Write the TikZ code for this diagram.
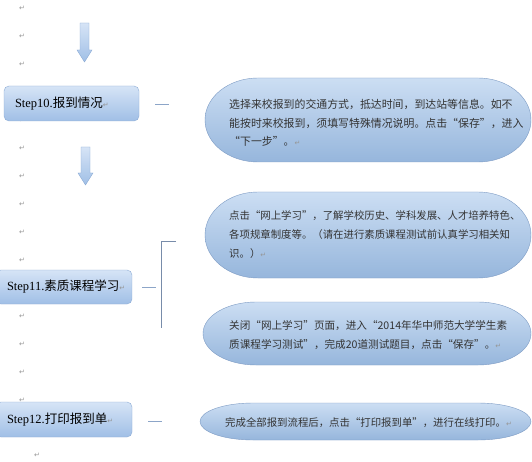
\documentclass[tikz,border=0pt]{standalone}
\usepackage{fontspec}
\setmainfont{Liberation Serif}
\newfontfamily\cjk{Noto Sans CJK SC}
\newfontfamily\symf{DejaVu Sans}
\usetikzlibrary{calc}
\definecolor{boxtop}{RGB}{214,228,246}
\definecolor{boxbot}{RGB}{160,191,230}
\definecolor{boxline}{RGB}{141,172,214}
\definecolor{elltop}{RGB}{204,222,243}
\definecolor{ellbot}{RGB}{150,182,220}
\definecolor{ellline}{RGB}{125,155,196}
\definecolor{dashc}{RGB}{140,165,200}
\definecolor{brackc}{RGB}{120,140,170}
\definecolor{markc}{RGB}{150,150,150}
\newcommand\parmk{{\color{markc}\symf\fontsize{7}{8}\selectfont ↵}}
% capsule with elliptical ends: x1 top x2 bottom
\newcommand\capsulepath[4]{(#1+53,#2) -- (#3-53,#2)
  .. controls (#3-23.73,#2) and (#3,{(#2+#4)/2-(#4-#2)*0.27615}) .. (#3,{(#2+#4)/2})
  .. controls (#3,{(#2+#4)/2+(#4-#2)*0.27615}) and (#3-23.73,#4) .. (#3-53,#4)
  -- (#1+53,#4)
  .. controls (#1+23.73,#4) and (#1,{(#2+#4)/2+(#4-#2)*0.27615}) .. (#1,{(#2+#4)/2})
  .. controls (#1,{(#2+#4)/2-(#4-#2)*0.27615}) and (#1+23.73,#2) .. (#1+53,#2) -- cycle}
\tikzset{
  stepbox/.style={draw=boxline, top color=boxtop, bottom color=boxbot, rounded corners=5pt,
    inner xsep=11pt, inner ysep=0pt, align=left, font=\fontsize{12.5}{14}\selectfont},
  parmark/.style={text=markc, font=\symf\fontsize{7}{8}\selectfont, inner sep=0pt},
  elltext/.style={inner sep=0pt, align=left, anchor=base west, text=black!80,
    font=\cjk\fontsize{10.9}{18.6}\selectfont},
  capsule/.style={draw=ellline, top color=elltop, bottom color=ellbot},
  blockarrow/.style={draw=boxline, top color=boxtop, bottom color=boxbot},
  dashline/.style={draw=dashc, line width=0.8pt},
  brack/.style={draw=brackc, line width=0.7pt}
}
\begin{document}
\begin{tikzpicture}[x=1pt,y=-1pt]
\useasboundingbox[fill=white] (0,0) rectangle (532,462);
% paragraph marks
\foreach \yy [count=\i] in {8,36,64,120,148,176,204,232,260,316,344,372,400}
  \node[parmark] (pm\i) at (22,\yy) {↵};
\node[parmark] (pmlast) at (37,455) {↵};
% block arrows
\path[blockarrow] (80,23) -- (89,23) -- (89,50) -- (92,50) -- (84.5,62) -- (77,50) -- (80,50) -- cycle;
\path[blockarrow] (81,147) -- (90,147) -- (90,173) -- (93,173) -- (85.5,185) -- (78,173) -- (81,173) -- cycle;
% step boxes
\node[stepbox, minimum width=135pt, minimum height=35pt, text width=113pt] (s10) at (71.5,103.5)
  {Step10.{\cjk 报到情况}\parmk};
\node[stepbox, minimum width=136pt, minimum height=34pt, text width=114pt] (s11) at (64,287)
  {Step11.{\cjk 素质课程学习}\parmk};
\node[stepbox, minimum width=136pt, minimum height=35pt, text width=114pt] (s12) at (64,419.5)
  {Step12.{\cjk 打印报到单}\parmk};
% dashes and bracket
\draw[dashline] ($(s10.east)+(16,0.5)$) coordinate (d1a) -- ++(14,0) coordinate (d1b);
\draw[dashline] ($(s11.east)+(10,0)$) coordinate (d2a) -- ++(14,0) coordinate (d2b);
\draw[dashline] ($(s12.east)+(16,2)$) coordinate (d3a) -- ++(14,0) coordinate (d3b);
\coordinate (bt) at (176,241);
\coordinate (bb) at (161,328);
\draw[brack] (bt) -| (bb);
% capsules
\path[capsule] \capsulepath{205}{78}{531}{162};
\path[capsule] \capsulepath{205}{192}{531}{278};
\path[capsule] \capsulepath{203}{302}{531}{365};
\path[capsule] \capsulepath{200}{403}{531}{440};
\node[elltext] (e1) at (229,146) {选择来校报到的交通方式，抵达时间，到达站等信息。如不\\能按时来校报到，须填写特殊情况说明。点击“保存”，进入\\“下一步”。\parmk};
\node[elltext, font=\cjk\fontsize{10.4}{18.6}\selectfont] (e2) at (229,257) {点击“网上学习”，了解学校历史、学科发展、人才培养特色、\\各项规章制度等。（请在进行素质课程测试前认真学习相关知\\识。）\parmk};
\node[elltext, font=\cjk\fontsize{10.6}{18.6}\selectfont] (e3) at (229,348) {关闭“网上学习”页面，进入“2014年华中师范大学学生素\\质课程学习测试”，完成20道测试题目，点击“保存”。\parmk};
\node[elltext, font=\cjk\fontsize{10.4}{18.6}\selectfont] (e4) at (225,426) {完成全部报到流程后，点击“打印报到单”，进行在线打印。\parmk};
\end{tikzpicture}
\end{document}
